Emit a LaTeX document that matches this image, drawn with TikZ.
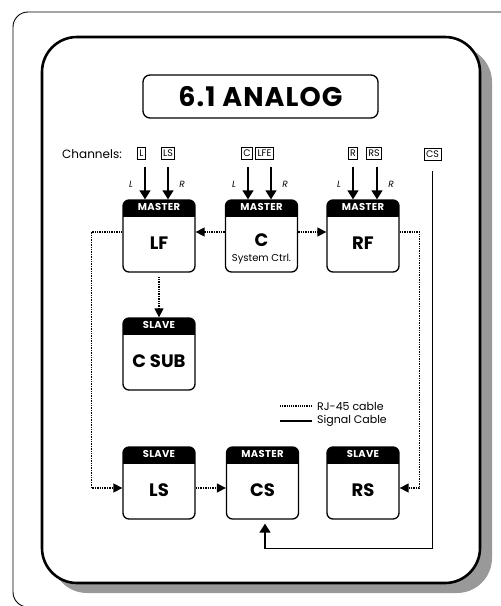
\documentclass[tikz,border=0pt]{standalone}
\usepackage{fontspec}
\setmainfont{Poppins}
\usepackage{tikz}
\usetikzlibrary{arrows.meta,positioning,calc}

\tikzset{
  unit/.style={draw, line width=1.3pt, rounded corners=6pt,
    minimum width=72pt, minimum height=72pt,
    path picture={\fill[sharp corners] (path picture bounding box.north west)
      rectangle ([yshift=-17pt]path picture bounding box.north east);}},
  hdr/.style={anchor=north, text=white, inner sep=0pt, yshift=-4pt,
    font=\bfseries\fontsize{10}{11}\selectfont\addfontfeature{LetterSpace=3}},
  unitname/.style={font=\bfseries\fontsize{18}{20}\selectfont, yshift=-7pt},
  chan/.style={draw, line width=0.8pt, inner xsep=2pt, inner ysep=0pt,
    minimum height=12pt, text height=6.5pt, text depth=0pt,
    font=\fontsize{9.5}{10}\selectfont},
  lr/.style={font=\itshape\fontsize{9}{10}\selectfont, inner sep=0pt},
  rj/.style={densely dotted, line width=1.4pt, -{Triangle[width=9pt,length=9pt]}},
  sig/.style={line width=1.4pt, -{Triangle[width=11pt,length=9pt]}},
  legend/.style={font=\fontsize{11}{12}\selectfont, inner sep=0pt}
}

\begin{document}
\begin{tikzpicture}[x=1pt,y=-1pt]
  \useasboundingbox (0,0) rectangle (501,606);

  % Frames
  \draw[line width=0.9pt, rounded corners=15pt] (13,12) rectangle (530,607);
  \fill[black!40, rounded corners=35pt] (52,47) rectangle (492,593);
  \draw[line width=2.6pt, fill=white, rounded corners=35pt] (42,37) rectangle (480,583);

  % Title
  \node[draw, line width=1.3pt, rounded corners=7pt, minimum width=235pt,
    minimum height=43pt, font=\bfseries\fontsize{27}{29}\selectfont\addfontfeature{LetterSpace=4}] (title) at (260.5,96.5) {6.1 ANALOG};

  % Channels
  \node[anchor=west, inner sep=0pt, font=\fontsize{12}{13}\selectfont] (chans) at (62,154) {Channels:};
  \node[chan] (chL) at (141.5,153.5) {L};
  \node[chan] (chLS) at (168,153.5) {LS};
  \node[chan] (chC) at (247,153.5) {C};
  \node[chan] (chLFE) at (264.5,153.5) {LFE};
  \node[chan] (chR) at (353,153.5) {R};
  \node[chan] (chRS) at (374,153.5) {RS};
  \node[chan] (chCS) at (432.5,154) {CS};

  % Units
  \node[unit, label={[hdr]north:MASTER}, label={[unitname]center:LF}] (lf) at (159,236) {};
  \node[unit, label={[hdr]north:MASTER}, label={[unitname, yshift=3pt]center:C},
    label={[anchor=south, yshift=8pt, inner sep=0pt, font=\fontsize{10}{11}\selectfont]south:System Ctrl.}] (c) at (261.5,236) {};
  \node[unit, label={[hdr]north:MASTER}, label={[unitname]center:RF}] (rf) at (363,236) {};
  \node[unit, label={[hdr]north:SLAVE}, label={[unitname]center:C SUB}] (csub) at (159,354) {};
  \node[unit, label={[hdr]north:SLAVE}, label={[unitname]center:LS}] (ls) at (159,483) {};
  \node[unit, label={[hdr]north:MASTER}, label={[unitname]center:CS}] (cs) at (262.5,483) {};
  \node[unit, label={[hdr]north:SLAVE}, label={[unitname]center:RS}] (rs) at (363,483) {};

  % Inputs
  \foreach \u/\a/\b in {lf/-14/9, c/-13.5/9.5, rf/-10/14} {
    \draw[sig] ([xshift=\a pt, yshift=32pt]\u.north) -- ([xshift=\a pt]\u.north);
    \draw[sig] ([xshift=\b pt, yshift=32pt]\u.north) -- ([xshift=\b pt]\u.north);
    \node[lr] (\u L) at ([xshift=\a pt - 14pt, yshift=15pt]\u.north) {L};
    \node[lr] (\u R) at ([xshift=\b pt + 14pt, yshift=15pt]\u.north) {R};
  }

  % RJ-45 links
  \draw[rj] ([yshift=4pt]c.west) -- ([yshift=4pt]lf.east);
  \draw[rj] ([yshift=4pt]c.east) -- ([yshift=4pt]rf.west);
  \draw[rj, shorten <=4pt] (lf) -- (csub);
  \draw[rj] ([yshift=4pt]lf.west) -- ++(-31,0) |- ([yshift=-5pt]ls.west);
  \draw[rj] ([yshift=-5pt]ls.east) -- ([yshift=-5pt]cs.west);
  \draw[rj] ([yshift=4pt]rf.east) -- ++(20,0) |- ([yshift=-5pt]rs.east);

  % Signal cable
  \draw[sig, shorten >=4pt] ([yshift=-11pt]chCS.south) -- ++(0,377) -| ([xshift=2.5pt]cs.south);

  % Legend
  \node[legend, anchor=west] (lgrj) at (317,406) {RJ-45 cable};
  \node[legend, anchor=west] (lgsig) at (317,421) {Signal Cable};
  \draw[densely dotted, line width=1.2pt] ([xshift=-5pt]lgrj.west) -- ++(-32,0);
  \draw[line width=1.2pt] ([xshift=-5pt]lgsig.west) -- ++(-32,0);
\end{tikzpicture}
\end{document}
